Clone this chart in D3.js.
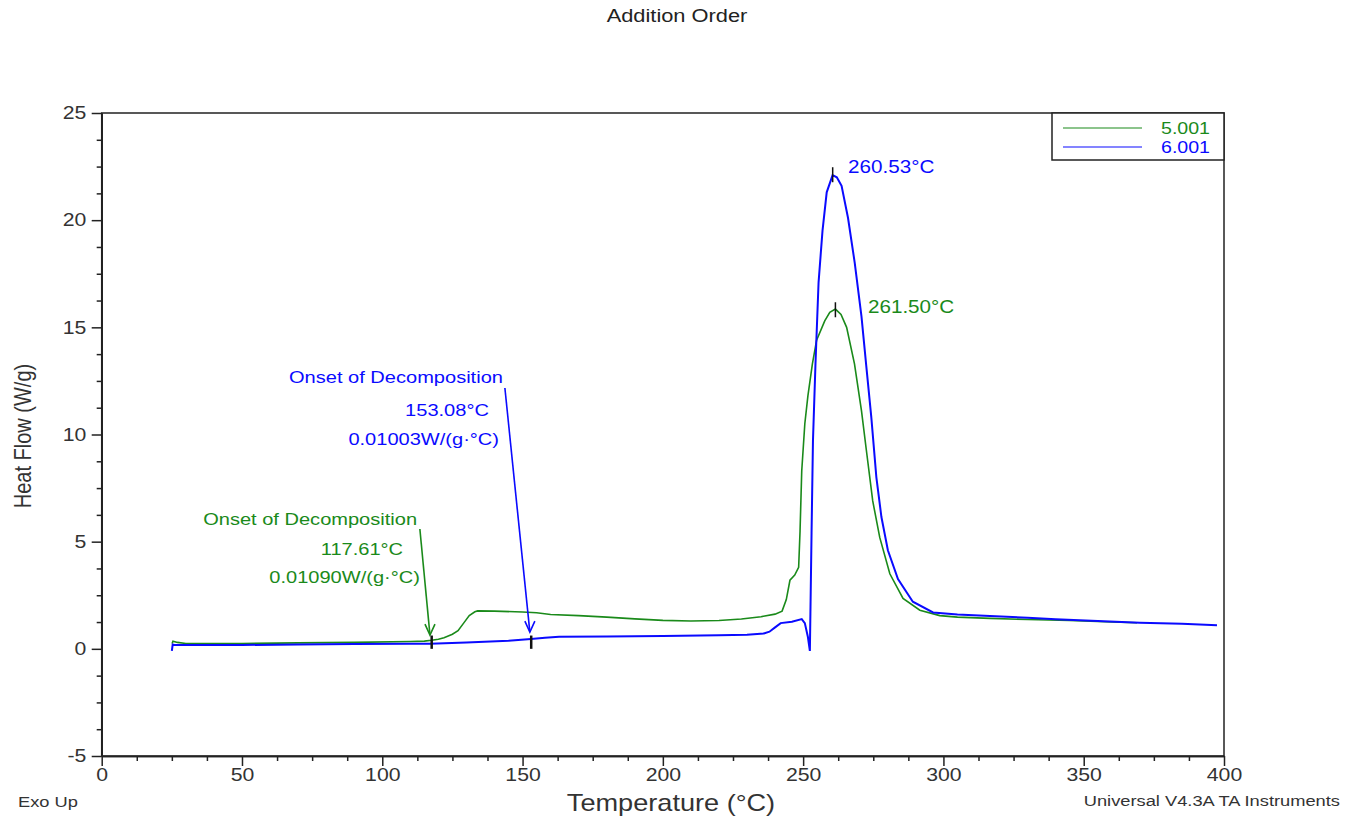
<!DOCTYPE html>
<html lang="en">
<head>
<meta charset="utf-8">
<script src="https://d3js.org/d3.v7.min.js"></script>
<style>
  body { margin: 0; background: #fff; }
  svg text { font-family: "Liberation Sans", Arial, sans-serif; fill: #333; }
</style>
</head>
<body>
<svg id="chart" width="1346" height="817"></svg>
<script>
// --- data ---
var seriesNames = ["5.001", "6.001"];
var seriesColors = ["#1a8a1a", "#0a0aff"];

// sample 5.001 (green): [temperature °C, heat flow W/g]
var green = [[25.1,0.25],[25.4,0.36],[27,0.3],[30,0.25],[50,0.25],[70,0.28],[90,0.3],[110,0.34],[115,0.36],
  [117.6,0.4],[120,0.45],[122,0.52],[125,0.68],[127,0.85],[129,1.2],[131,1.55],[133,1.73],[134,1.77],[140,1.76],
  [150,1.72],[155,1.68],[160,1.6],[170,1.55],[180,1.48],[190,1.4],[200,1.33],[210,1.3],[220,1.32],[228,1.39],
  [235,1.5],[240,1.62],[242.5,1.76],[244,2.3],[245.3,3.2],[247,3.44],[248.4,3.8],[248.9,5.5],[249.5,8.3],
  [250.6,10.5],[251.7,11.8],[253.3,13.3],[254.8,14.4],[257.7,15.3],[259.5,15.7],[261.5,15.85],[263.5,15.6],
  [265.5,15.0],[268.3,13.3],[270.8,11.1],[272.5,9.3],[274.8,6.9],[277.3,5.2],[280.9,3.5],[285.6,2.35],
  [291.6,1.8],[298.7,1.55],[305,1.48],[316.6,1.42],[330,1.37],[345,1.32],[360,1.25],[369,1.22]];

// sample 6.001 (blue)
var blue = [[25.0,-0.1],[25.3,0.2],[26,0.18],[30,0.18],[50,0.18],[70,0.2],[90,0.22],[110,0.24],[117,0.24],
  [130,0.3],[145,0.38],[153,0.46],[158,0.52],[163,0.56],[180,0.58],[200,0.6],[220,0.63],[230,0.66],[236,0.72],
  [238,0.8],[240,1.0],[242,1.2],[246,1.26],[249.5,1.39],[250.6,1.2],[251.7,0.55],[252.4,-0.1],[253,5.4],
  [253.5,9.7],[254.4,13.3],[255.5,17.1],[256.9,19.5],[258.4,21.3],[260.5,22.1],[262,22.0],[263.7,21.6],
  [266,20.1],[268.4,18.0],[270.8,15.5],[272.5,13.2],[274.3,10.8],[276.1,8.0],[277.9,6.15],[280.2,4.6],
  [283.8,3.25],[289.1,2.2],[296.3,1.7],[305,1.6],[316.6,1.53],[330,1.45],[340,1.38],[355,1.3],[370,1.22],
  [385,1.17],[397.5,1.1]];

var xTicks = [0, 50, 100, 150, 200, 250, 300, 350, 400];
var yTicks = [-5, 0, 5, 10, 15, 20, 25];

// onset annotations: leader start/end, onset temp, text lines
var onsetTemps = [117.61, 153.08];
var onsetLeaders = [[[113.4, 5.59], [117.0, 0.64]], [[143.7, 12.17], [152.6, 0.78]]];
var onsetLines = [["Onset of Decomposition", "117.61°C", "0.01090W/(g·°C)"],
                  ["Onset of Decomposition", "153.08°C", "0.01003W/(g·°C)"]];
var onsetTextPos = [[[112.4, 5.78], [107.4, 4.38], [113.4, 3.07]],
                    [[143.0, 12.4], [138.0, 10.86], [141.6, 9.5]]];

// peak annotations
var peakTemps = [261.5, 260.53];
var peakValues = [15.82, 22.12];
var peakLabels = ["261.50°C", "260.53°C"];
var peakTextPos = [[273.1, 15.67], [266.0, 22.2]];

// --- layout ---
var svg = d3.select("#chart");
var padLeft = 101.7, padTop = 113, padRight = 1224, padBottom = 756;
var sx = 1.18; // text in the source is horizontally stretched

var x = d3.scaleLinear().domain([0, 400]).range([padLeft, padRight]);
var y = d3.scaleLinear().domain([-5, 25]).range([padBottom, padTop]);

function label(x0, y0, str, size, anchor, color) {
  return svg.append("text")
    .attr("transform", "translate(" + x0 + "," + y0 + ") scale(" + sx + ",1)")
    .attr("text-anchor", anchor || "start")
    .style("font-size", size + "px")
    .style("fill", color || "#333")
    .text(str);
}

// frame
svg.append("rect").attr("x", padLeft).attr("y", padTop).attr("width", padRight - padLeft).attr("height", padBottom - padTop)
  .attr("fill", "none").attr("stroke", "#222").attr("stroke-width", 1.5);

// minor ticks
var xMinor = d3.range(0, 400.1, 12.5).filter(function(d) { return d % 50 != 0; });
var yMinor = d3.range(-5, 25.1, 1.25).filter(function(d) { return d % 5 != 0; });

var gx = svg.append("g").attr("transform", "translate(0," + padBottom + ")");
gx.call(d3.axisBottom(x).tickValues(xTicks).tickSize(10).tickSizeOuter(0).tickPadding(2)
  .tickFormat(function(d) { return String(d); }));
gx.append("g").call(d3.axisBottom(x).tickValues(xMinor).tickSize(5).tickSizeOuter(0).tickFormat(""));

var gy = svg.append("g").attr("transform", "translate(" + padLeft + ",0)");
gy.call(d3.axisLeft(y).tickValues(yTicks).tickSize(10).tickSizeOuter(0).tickPadding(3)
  .tickFormat(function(d) { return String(d); }));
gy.append("g").call(d3.axisLeft(y).tickValues(yMinor).tickSize(5).tickSizeOuter(0).tickFormat(""));

svg.selectAll(".domain").attr("stroke", "#222").attr("stroke-width", 1.5);
svg.selectAll(".tick line").attr("stroke", "#222").attr("stroke-width", 1.5);
svg.selectAll(".tick text").style("font-size", "18px").style("font-family", "Liberation Sans, Arial, sans-serif")
  .style("fill", "#333").attr("transform", "scale(" + sx + ",1)");

// curves
var line = d3.line().x(function(d) { return x(d[0]); }).y(function(d) { return y(d[1]); });
var plot = svg.append("g");
plot.append("path").datum(green).attr("d", line).attr("fill", "none")
  .attr("stroke", seriesColors[0]).attr("stroke-width", 1.6);
plot.append("path").datum(blue).attr("d", line).attr("fill", "none")
  .attr("stroke", seriesColors[1]).attr("stroke-width", 2);

// onset annotations
onsetTemps.forEach(function(t, i) {
  var c = seriesColors[i];
  var a = onsetLeaders[i][0], b = onsetLeaders[i][1];
  plot.append("line").attr("x1", x(a[0])).attr("y1", y(a[1])).attr("x2", x(b[0])).attr("y2", y(b[1]))
    .attr("stroke", c).attr("stroke-width", 1.6);
  var ex = x(b[0]), ey = y(b[1]);
  plot.append("path").attr("d", "M" + (ex - 5) + "," + (ey - 11) + "L" + ex + "," + ey + "L" + (ex + 5) + "," + (ey - 11))
    .attr("fill", "none").attr("stroke", c).attr("stroke-width", 1.6);
  plot.append("line").attr("x1", x(t)).attr("x2", x(t)).attr("y1", y(0.62)).attr("y2", y(0.0))
    .attr("stroke", "#111").attr("stroke-width", 2.5);
  onsetLines[i].forEach(function(s, k) {
    var p = onsetTextPos[i][k];
    label(x(p[0]), y(p[1]), s, 17, "end", c);
  });
});

// peak annotations
peakTemps.forEach(function(t, i) {
  plot.append("line").attr("x1", x(t)).attr("x2", x(t)).attr("y1", y(peakValues[i] + 0.35)).attr("y2", y(peakValues[i] - 0.35))
    .attr("stroke", "#111").attr("stroke-width", 1.5);
  var p = peakTextPos[i];
  label(x(p[0]), y(p[1]), peakLabels[i], 17.5, "start", seriesColors[i]);
});

// legend
var lg = svg.append("g");
lg.append("rect").attr("x", 1052).attr("y", padTop).attr("width", padRight - 1052).attr("height", 47)
  .attr("fill", "#fff").attr("stroke", "#222").attr("stroke-width", 1.5);
seriesNames.forEach(function(n, i) {
  var yy = 128 + i * 19;
  lg.append("line").attr("x1", 1063).attr("x2", 1142).attr("y1", yy).attr("y2", yy)
    .attr("stroke", seriesColors[i]).attr("stroke-width", 1.2);
  label(1161, yy + 6, n, 16.6, "start", seriesColors[i]);
});

// titles
label(677, 22, "Addition Order", 18.5, "middle", "#222");
label(671, 811, "Temperature (°C)", 23, "middle", "#333");
svg.append("text")
  .attr("transform", "translate(31,436) scale(" + sx + ",1) rotate(-90)")
  .attr("text-anchor", "middle").style("font-size", "20px").text("Heat Flow (W/g)");
label(18, 807, "Exo Up", 15.5, "start", "#333");
label(1340, 806, "Universal V4.3A TA Instruments", 15.5, "end", "#333");
</script>
</body>
</html>
